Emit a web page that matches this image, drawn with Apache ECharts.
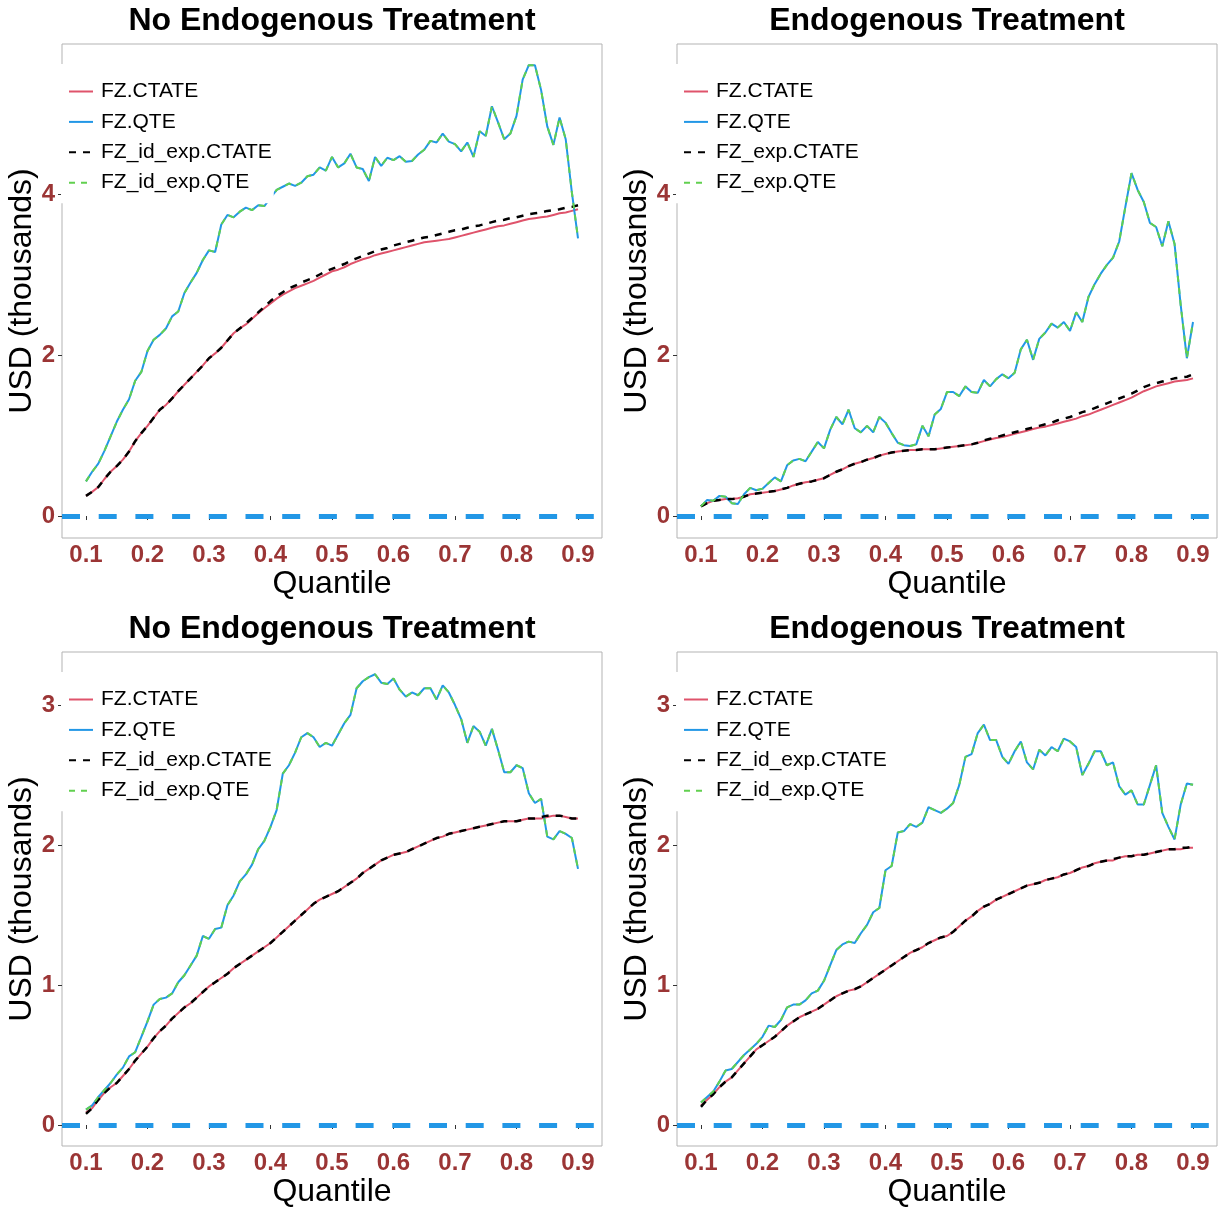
<!DOCTYPE html>
<html>
<head>
<meta charset="utf-8">
<script src="https://cdn.jsdelivr.net/npm/echarts@6/dist/echarts.min.js"></script>
<style>
html,body{margin:0;padding:0;background:#fff;}
#chart{width:1225px;height:1209px;}
</style>
</head>
<body>
<div id="chart"></div>
<script>
// ---------- DATA ----------
const quantiles = [0.10,0.11,0.12,0.13,0.14,0.15,0.16,0.17,0.18,0.19,
  0.20,0.21,0.22,0.23,0.24,0.25,0.26,0.27,0.28,0.29,
  0.30,0.31,0.32,0.33,0.34,0.35,0.36,0.37,0.38,0.39,
  0.40,0.41,0.42,0.43,0.44,0.45,0.46,0.47,0.48,0.49,
  0.50,0.51,0.52,0.53,0.54,0.55,0.56,0.57,0.58,0.59,
  0.60,0.61,0.62,0.63,0.64,0.65,0.66,0.67,0.68,0.69,
  0.70,0.71,0.72,0.73,0.74,0.75,0.76,0.77,0.78,0.79,
  0.80,0.81,0.82,0.83,0.84,0.85,0.86,0.87,0.88,0.89,0.90];

const xTicks = [0.1,0.2,0.3,0.4,0.5,0.6,0.7,0.8,0.9];
const yTicksTop = [0,2,4];
const yTicksBottom = [0,1,2,3];

const titles = ['No Endogenous Treatment','Endogenous Treatment','No Endogenous Treatment','Endogenous Treatment'];
const legendNames = [
  ['FZ.CTATE','FZ.QTE','FZ_id_exp.CTATE','FZ_id_exp.QTE'],
  ['FZ.CTATE','FZ.QTE','FZ_exp.CTATE','FZ_exp.QTE'],
  ['FZ.CTATE','FZ.QTE','FZ_id_exp.CTATE','FZ_id_exp.QTE'],
  ['FZ.CTATE','FZ.QTE','FZ_id_exp.CTATE','FZ_id_exp.QTE']
];

// Panel 1 (top-left)
const p1_fzCtate = [0.25,0.30,0.36,0.46,0.55,0.62,0.70,0.80,0.93,1.03,
  1.12,1.22,1.32,1.38,1.46,1.55,1.63,1.71,1.79,1.87,
  1.96,2.02,2.09,2.18,2.27,2.33,2.38,2.45,2.52,2.58,
  2.64,2.70,2.75,2.79,2.83,2.86,2.89,2.92,2.96,3.00,
  3.04,3.06,3.09,3.13,3.16,3.19,3.21,3.24,3.26,3.28,
  3.30,3.32,3.34,3.36,3.38,3.40,3.41,3.42,3.43,3.44,
  3.46,3.48,3.50,3.52,3.54,3.56,3.58,3.60,3.61,3.63,
  3.65,3.67,3.69,3.70,3.71,3.72,3.74,3.76,3.77,3.79,3.81];
const p1_fzQte = [0.43,0.55,0.65,0.81,0.99,1.17,1.32,1.45,1.68,1.79,
  2.05,2.19,2.25,2.33,2.48,2.54,2.77,2.90,3.02,3.18,
  3.30,3.28,3.62,3.74,3.71,3.78,3.83,3.80,3.86,3.85,
  3.95,4.05,4.09,4.13,4.10,4.14,4.22,4.24,4.33,4.29,
  4.46,4.33,4.38,4.50,4.33,4.31,4.16,4.46,4.35,4.45,
  4.42,4.47,4.40,4.41,4.49,4.55,4.66,4.64,4.75,4.65,
  4.62,4.53,4.64,4.46,4.78,4.72,5.09,4.89,4.68,4.75,
  4.97,5.42,5.60,5.60,5.29,4.84,4.61,4.95,4.68,4.02,3.45];
const p1_expCtate = [0.25,0.30,0.36,0.46,0.55,0.62,0.70,0.80,0.93,1.03,
  1.12,1.22,1.32,1.38,1.46,1.55,1.63,1.71,1.79,1.87,
  1.96,2.02,2.09,2.18,2.27,2.33,2.39,2.46,2.53,2.60,
  2.67,2.73,2.78,2.83,2.86,2.90,2.93,2.96,3.00,3.04,
  3.07,3.10,3.13,3.17,3.20,3.23,3.26,3.29,3.31,3.33,
  3.36,3.38,3.40,3.42,3.44,3.46,3.47,3.49,3.51,3.53,
  3.55,3.56,3.58,3.60,3.61,3.63,3.65,3.67,3.68,3.70,
  3.71,3.73,3.75,3.76,3.77,3.79,3.80,3.81,3.83,3.84,3.86];
const p1_expQte = p1_fzQte;

// Panel 2 (top-right)
const p2_fzCtate = [0.12,0.16,0.19,0.20,0.21,0.21,0.22,0.24,0.27,0.28,
  0.29,0.30,0.31,0.33,0.35,0.38,0.40,0.42,0.43,0.45,
  0.47,0.51,0.55,0.58,0.62,0.65,0.67,0.70,0.72,0.75,
  0.77,0.79,0.80,0.81,0.82,0.82,0.83,0.83,0.83,0.84,
  0.85,0.86,0.87,0.88,0.89,0.91,0.93,0.95,0.97,0.98,
  1.00,1.02,1.04,1.06,1.08,1.10,1.11,1.13,1.15,1.17,
  1.19,1.21,1.24,1.26,1.29,1.32,1.35,1.38,1.41,1.44,
  1.47,1.51,1.55,1.58,1.61,1.63,1.65,1.67,1.68,1.69,1.71];
const p2_fzQte = [0.12,0.20,0.19,0.25,0.24,0.16,0.15,0.27,0.35,0.32,
  0.34,0.41,0.48,0.43,0.63,0.69,0.71,0.68,0.80,0.92,
  0.84,1.07,1.23,1.14,1.32,1.09,1.04,1.12,1.04,1.23,
  1.16,1.03,0.91,0.88,0.87,0.89,1.12,0.99,1.26,1.33,
  1.54,1.54,1.49,1.61,1.54,1.53,1.69,1.61,1.70,1.76,
  1.71,1.78,2.07,2.19,1.94,2.20,2.28,2.39,2.34,2.41,
  2.30,2.53,2.41,2.72,2.88,3.01,3.12,3.21,3.41,3.84,
  4.26,4.05,3.90,3.64,3.59,3.35,3.66,3.38,2.62,1.96,2.41];
const p2_expCtate = [0.12,0.16,0.19,0.20,0.21,0.21,0.22,0.24,0.27,0.28,
  0.29,0.30,0.31,0.33,0.35,0.38,0.40,0.42,0.43,0.45,
  0.47,0.51,0.55,0.58,0.62,0.65,0.67,0.70,0.72,0.75,
  0.77,0.79,0.80,0.81,0.82,0.82,0.83,0.83,0.83,0.84,
  0.85,0.86,0.87,0.88,0.89,0.91,0.94,0.96,0.98,1.00,
  1.02,1.04,1.06,1.08,1.10,1.12,1.14,1.16,1.19,1.21,
  1.23,1.26,1.29,1.31,1.34,1.37,1.40,1.43,1.46,1.49,
  1.52,1.56,1.60,1.63,1.65,1.67,1.69,1.71,1.72,1.73,1.76];
const p2_expQte = p2_fzQte;

// Panel 3 (bottom-left)
const p3_fzCtate = [0.09,0.12,0.18,0.23,0.27,0.30,0.35,0.40,0.46,0.51,
  0.56,0.62,0.67,0.71,0.76,0.80,0.84,0.87,0.91,0.95,
  0.99,1.02,1.05,1.08,1.12,1.15,1.18,1.21,1.24,1.27,
  1.30,1.34,1.38,1.42,1.46,1.50,1.54,1.58,1.61,1.63,
  1.65,1.67,1.70,1.73,1.76,1.80,1.83,1.86,1.89,1.91,
  1.93,1.94,1.95,1.97,1.99,2.01,2.03,2.05,2.06,2.08,
  2.09,2.10,2.11,2.12,2.13,2.14,2.15,2.16,2.17,2.17,
  2.17,2.18,2.19,2.19,2.19,2.20,2.21,2.21,2.20,2.19,2.19];
const p3_fzQte = [0.11,0.14,0.20,0.25,0.30,0.36,0.41,0.49,0.52,0.63,
  0.74,0.86,0.90,0.91,0.94,1.02,1.07,1.14,1.21,1.35,
  1.33,1.40,1.41,1.57,1.64,1.74,1.79,1.86,1.97,2.03,
  2.13,2.25,2.51,2.57,2.66,2.77,2.80,2.77,2.70,2.73,
  2.71,2.79,2.87,2.93,3.12,3.17,3.20,3.22,3.16,3.15,
  3.19,3.11,3.06,3.09,3.07,3.12,3.12,3.04,3.14,3.09,
  3.00,2.90,2.73,2.85,2.81,2.71,2.83,2.68,2.52,2.52,
  2.57,2.55,2.37,2.30,2.33,2.06,2.04,2.10,2.08,2.05,1.83];
const p3_expCtate = [0.08,0.12,0.18,0.23,0.27,0.30,0.35,0.40,0.46,0.51,
  0.56,0.62,0.67,0.71,0.76,0.80,0.84,0.87,0.91,0.95,
  0.99,1.02,1.05,1.08,1.12,1.15,1.18,1.21,1.24,1.27,
  1.30,1.34,1.38,1.42,1.46,1.50,1.54,1.58,1.61,1.63,
  1.65,1.67,1.70,1.73,1.76,1.80,1.83,1.86,1.89,1.91,
  1.93,1.94,1.95,1.97,1.99,2.01,2.03,2.05,2.06,2.08,
  2.09,2.10,2.11,2.12,2.13,2.14,2.15,2.16,2.17,2.17,
  2.17,2.18,2.19,2.19,2.20,2.21,2.21,2.21,2.20,2.19,2.19];
const p3_expQte = p3_fzQte;

// Panel 4 (bottom-right)
const p4_fzCtate = [0.14,0.18,0.22,0.27,0.31,0.34,0.39,0.44,0.49,0.54,
  0.57,0.60,0.63,0.67,0.71,0.74,0.77,0.79,0.81,0.83,
  0.86,0.89,0.92,0.94,0.96,0.97,0.99,1.02,1.05,1.08,
  1.11,1.14,1.17,1.20,1.23,1.25,1.27,1.30,1.32,1.34,
  1.35,1.38,1.42,1.46,1.49,1.53,1.56,1.58,1.61,1.63,
  1.65,1.67,1.69,1.71,1.72,1.73,1.75,1.76,1.77,1.79,
  1.80,1.82,1.84,1.85,1.87,1.88,1.89,1.89,1.91,1.92,
  1.92,1.93,1.93,1.94,1.95,1.96,1.97,1.97,1.97,1.98,1.98];
const p4_fzQte = [0.16,0.20,0.24,0.31,0.39,0.40,0.45,0.50,0.54,0.58,
  0.63,0.71,0.70,0.75,0.84,0.86,0.86,0.89,0.94,0.96,
  1.03,1.14,1.25,1.29,1.31,1.30,1.37,1.43,1.52,1.55,
  1.82,1.85,2.09,2.10,2.15,2.13,2.16,2.27,2.25,2.23,
  2.26,2.30,2.43,2.63,2.65,2.80,2.86,2.75,2.75,2.63,
  2.58,2.67,2.74,2.59,2.54,2.68,2.64,2.70,2.67,2.76,
  2.74,2.70,2.50,2.58,2.67,2.67,2.57,2.59,2.42,2.36,
  2.39,2.29,2.29,2.43,2.57,2.23,2.13,2.04,2.29,2.44,2.43];
const p4_expCtate = [0.13,0.18,0.22,0.27,0.31,0.34,0.39,0.44,0.49,0.54,
  0.57,0.60,0.63,0.67,0.71,0.74,0.77,0.79,0.81,0.83,
  0.86,0.89,0.92,0.94,0.96,0.97,0.99,1.02,1.05,1.08,
  1.11,1.14,1.17,1.20,1.23,1.25,1.27,1.30,1.32,1.34,
  1.35,1.38,1.42,1.46,1.49,1.53,1.56,1.58,1.61,1.63,
  1.65,1.67,1.69,1.71,1.72,1.73,1.75,1.76,1.77,1.79,
  1.80,1.82,1.84,1.85,1.87,1.88,1.89,1.90,1.91,1.92,
  1.92,1.93,1.93,1.94,1.95,1.96,1.97,1.97,1.98,1.98,1.99];
const p4_expQte = p4_fzQte;

const panelData = [
  [p1_fzCtate, p1_fzQte, p1_expCtate, p1_expQte],
  [p2_fzCtate, p2_fzQte, p2_expCtate, p2_expQte],
  [p3_fzCtate, p3_fzQte, p3_expCtate, p3_expQte],
  [p4_fzCtate, p4_fzQte, p4_expCtate, p4_expQte]
];

// ---------- STYLE / LAYOUT ----------
const FONT = '"Liberation Sans", Arial, Helvetica, sans-serif';
const TICK_COLOR = '#9B3535';
const seriesStyles = [
  {color:'#DF536B', type:'solid', width:2},
  {color:'#2297E6', type:'solid', width:2},
  {color:'#000000', type:[7,7], width:2.5},
  {color:'#61D04F', type:[6,6], width:2}
];
const panels = [
  {left:62, top:44, yMin:-0.273, yMax:5.863, yTicks:yTicksTop},
  {left:677, top:44, yMin:-0.273, yMax:5.863, yTicks:yTicksTop},
  {left:62, top:652, yMin:-0.15, yMax:3.379, yTicks:yTicksBottom},
  {left:677, top:652, yMin:-0.15, yMax:3.379, yTicks:yTicksBottom}
];
const PW = 540, PH = 494;

const grid = [], xAxis = [], yAxis = [], series = [], legend = [], title = [];
panels.forEach((p, k) => {
  grid.push({left:p.left, top:p.top, width:PW, height:PH, show:true,
    borderColor:'#B3B3B3', borderWidth:1, backgroundColor:'#fff'});
  xAxis.push({gridIndex:k, type:'value', min:0.061, max:0.939,
    splitLine:{show:false}, axisLine:{show:false},
    axisTick:{show:true, customValues:xTicks, length:4, lineStyle:{color:'#333', width:1}},
    axisLabel:{customValues:xTicks, formatter:v=>Number(v).toFixed(1), color:TICK_COLOR,
      fontWeight:'bold', fontSize:24, fontFamily:FONT, margin:5},
    name:'Quantile', nameLocation:'middle', nameGap:30,
    nameTextStyle:{fontSize:32, color:'#000', fontFamily:FONT}});
  yAxis.push({gridIndex:k, type:'value', min:p.yMin, max:p.yMax,
    splitLine:{show:false}, axisLine:{show:false},
    axisTick:{show:true, customValues:p.yTicks, length:4, lineStyle:{color:'#333', width:1}},
    axisLabel:{customValues:p.yTicks, formatter:v=>String(Math.round(v)), color:TICK_COLOR,
      fontWeight:'bold', fontSize:24, fontFamily:FONT, margin:7},
    name:'USD (thousands)', nameLocation:'middle', nameGap:24, nameRotate:90,
    nameTextStyle:{fontSize:32, color:'#000', fontFamily:FONT}});
  const names = legendNames[k];
  panelData[k].forEach((vals, j) => {
    const st = seriesStyles[j];
    const s = {
      name:names[j], type:'line', xAxisIndex:k, yAxisIndex:k,
      data:quantiles.map((q,i)=>[q, vals[i]]),
      symbol:'none', showSymbol:false, animation:false, silent:true,
      lineStyle:{color:st.color, width:st.width, type:st.type},
      itemStyle:{color:st.color}, z:2+j
    };
    if (j === 0) {
      s.markLine = {silent:true, symbol:['none','none'], animation:false,
        label:{show:false},
        lineStyle:{color:'#2297E6', width:5, type:[18,18.7]},
        data:[{yAxis:0}]};
    }
    series.push(s);
  });
  legend.push({orient:'vertical', left:p.left-1, top:p.top+20,
    padding:[17,2,10,7], itemGap:9.4, itemWidth:24, itemHeight:14,
    backgroundColor:'#fff', selectedMode:false, z:10,
    itemStyle:{opacity:0},
    textStyle:{fontSize:21, color:'#000', fontFamily:FONT, padding:[0,0,0,3]},
    data:names});
  title.push({text:titles[k], left:p.left+PW/2, top:p.top-39, textAlign:'center', padding:0,
    textStyle:{fontSize:32, fontWeight:'bold', color:'#000', fontFamily:FONT}});
});

const chart = echarts.init(document.getElementById('chart'), null, {renderer:'canvas'});
chart.setOption({backgroundColor:'#fff', animation:false, title, grid, xAxis, yAxis, legend, series});
</script>
</body>
</html>
